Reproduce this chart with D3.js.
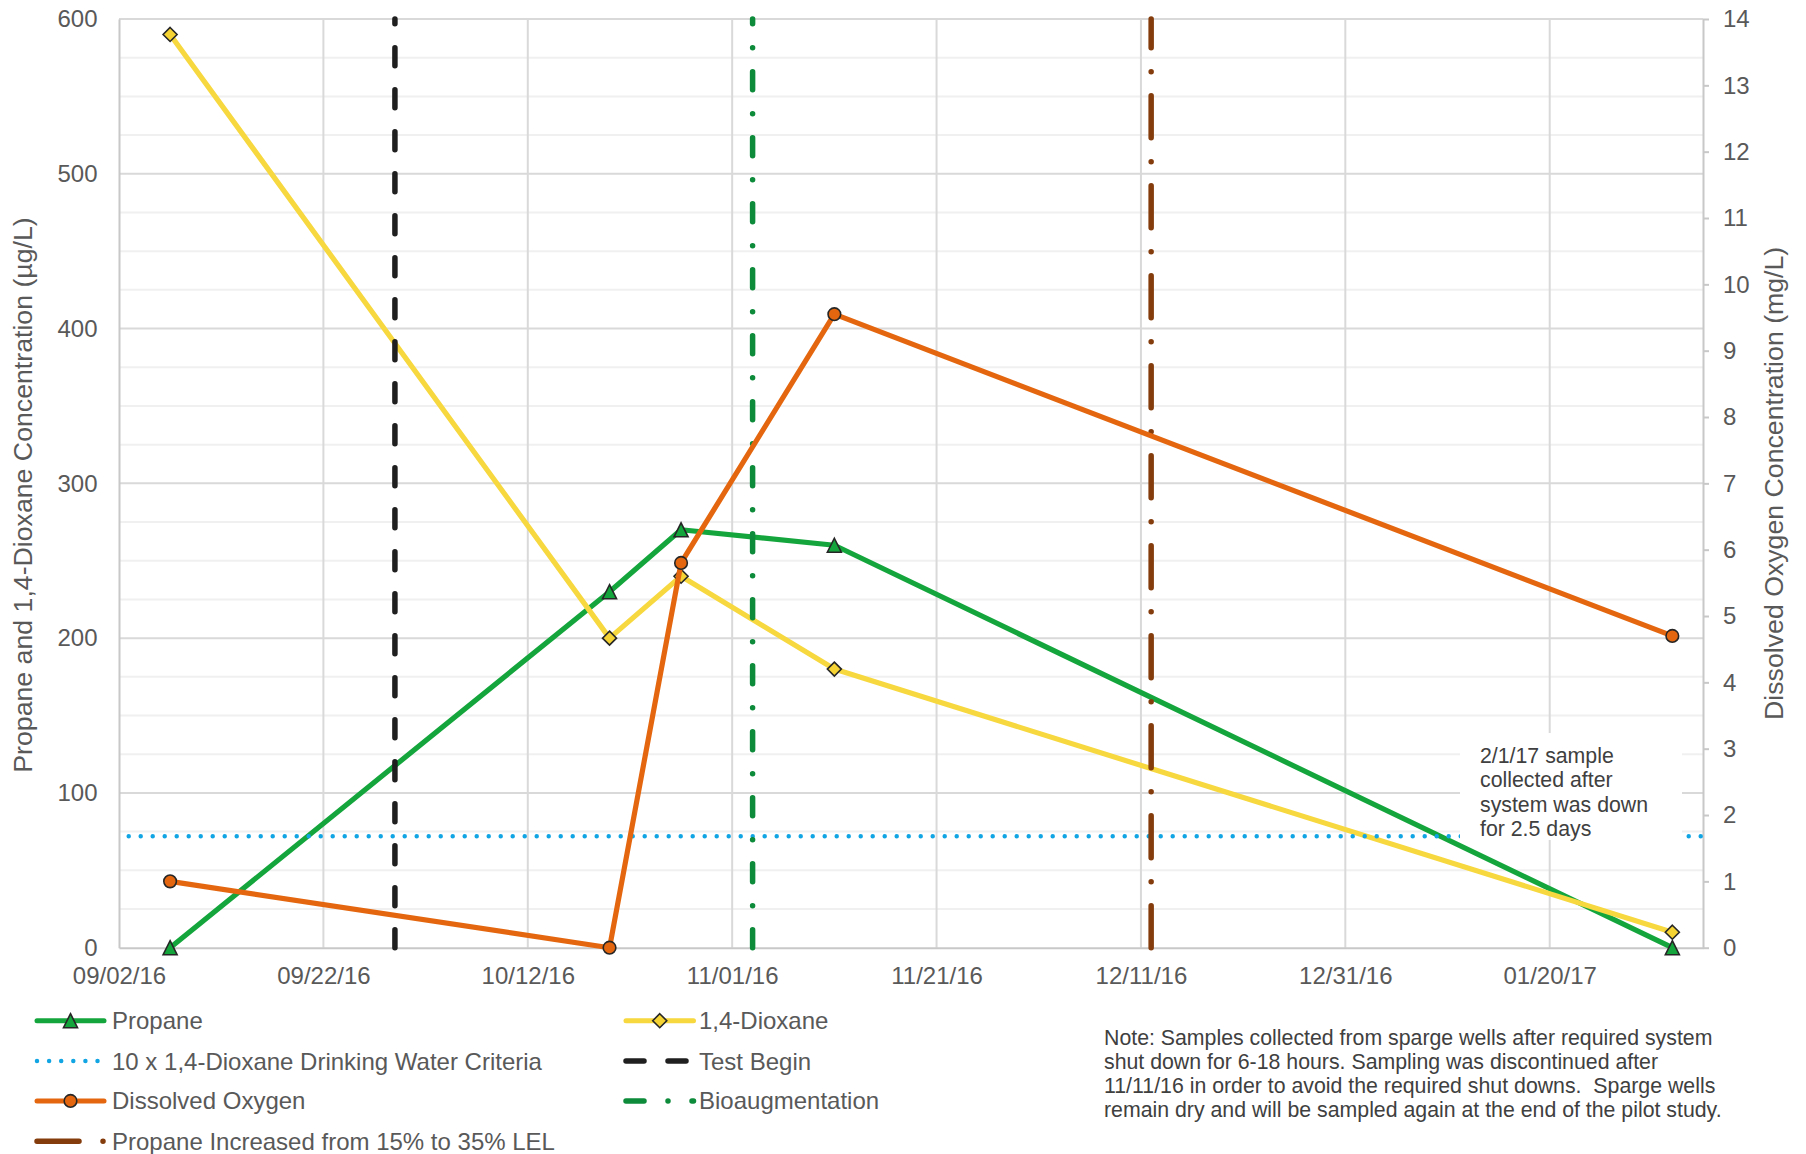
<!DOCTYPE html>
<html><head><meta charset="utf-8">
<script src="https://cdn.jsdelivr.net/npm/d3@7"></script>
<style>
body{margin:0;background:#fff}
text{font-family:"Liberation Sans",Arial,sans-serif;white-space:pre}
</style>
</head><body>
<svg id="chart" width="1806" height="1154"></svg>
<script>
// ---------- data ----------
const sampleDates = ["2016-09-07","2016-10-20","2016-10-27","2016-11-11","2017-02-01"];
const propane = [0, 230, 270, 260, 0];
const dioxane = [590, 200, 240, 180, 10];
const dissolvedOxygen = [1.0, 0, 5.8, 9.55, 4.7];
const criteriaValue = 72;
const eventDates = ["2016-09-29","2016-11-03","2016-12-12"];
const eventNames = ["Test Begin","Bioaugmentation","Propane Increased from 15% to 35% LEL"];
const xDomain = ["2016-09-02","2017-02-04"];
const xTickDates = ["2016-09-02","2016-09-22","2016-10-12","2016-11-01","2016-11-21","2016-12-11","2016-12-31","2017-01-20"];
const leftTicks = [0,100,200,300,400,500,600];
const leftMinorTicks = [25,50,75,125,150,175,225,250,275,325,350,375,425,450,475,525,550,575];
const rightTicks = [0,1,2,3,4,5,6,7,8,9,10,11,12,13,14];
const seriesNames = ["Propane","1,4-Dioxane","10 x 1,4-Dioxane Drinking Water Criteria","Dissolved Oxygen"];
const leftTitle = "Propane and 1,4-Dioxane Concentration (\u00b5g/L)";
const rightTitle = "Dissolved Oxygen Concentration (mg/L)";
const annotationLines = ["2/1/17 sample","collected after","system was down","for 2.5 days"];
const noteLines = [
  "Note: Samples collected from sparge wells after required system",
  "shut down for 6-18 hours. Sampling was discontinued after",
  "11/11/16 in order to avoid the required shut downs.  Sparge wells",
  "remain dry and will be sampled again at the end of the pilot study."
];

// ---------- setup ----------
const parse = d3.utcParse("%Y-%m-%d");
const svg = d3.select("#chart");
const L = 119, R = 1703, T = 19, B = 947.7;
const x = d3.scaleUtc().domain(xDomain.map(parse)).range([L, R]);
const yL = d3.scaleLinear().domain([0, 600]).range([B, T]);
const yR = d3.scaleLinear().domain([0, 14]).range([B, T]);
const FONT = '"Liberation Sans", Arial, sans-serif';
const TXT = "#595959";

const C = {
  propane: "#14a63d", propaneFill: "#14a63d",
  dioxane: "#f7d83f", dioxaneFill: "#f5d332",
  oxygen: "#e4670f",
  criteria: "#12a5e4",
  events: ["#1f1f1f", "#0d8a3a", "#843c0c"],
  marker: "#262626"
};
const eventDash = ["18,24", "18,24,0,24", "42,24,0,24"];

// ---------- grid ----------
const grid = svg.append("g");
grid.selectAll("line.minor").data(leftMinorTicks).join("line")
  .attr("x1", L).attr("x2", R).attr("y1", d => yL(d)).attr("y2", d => yL(d))
  .attr("stroke", "#f0f0f0").attr("stroke-width", 2);
grid.selectAll("line.major").data(leftTicks.slice(1)).join("line")
  .attr("x1", L).attr("x2", R).attr("y1", d => yL(d)).attr("y2", d => yL(d))
  .attr("stroke", "#d9d9d9").attr("stroke-width", 2);
grid.selectAll("line.vert").data(xTickDates.slice(1)).join("line")
  .attr("x1", d => x(parse(d))).attr("x2", d => x(parse(d))).attr("y1", T).attr("y2", B)
  .attr("stroke", "#d9d9d9").attr("stroke-width", 2);

// ---------- axes ----------
function styleAxis(g) {
  g.attr("font-family", FONT).attr("font-size", 24);
  g.selectAll("text").attr("fill", TXT);
  g.select(".domain").attr("stroke", "#c8c8c8").attr("stroke-width", 2);
  g.selectAll(".tick line").attr("stroke", "#c8c8c8").attr("stroke-width", 2);
}
svg.append("g").attr("transform", `translate(${L},0)`)
  .call(d3.axisLeft(yL).tickValues(leftTicks).tickSize(0).tickSizeOuter(0).tickPadding(21.5))
  .call(styleAxis);
svg.append("g").attr("transform", `translate(${R},0)`)
  .call(d3.axisRight(yR).tickValues(rightTicks).tickSize(6).tickSizeOuter(0).tickPadding(14))
  .call(styleAxis);
svg.append("g").attr("transform", `translate(0,${B})`)
  .call(d3.axisBottom(x).tickValues(xTickDates.map(parse)).tickFormat(d3.utcFormat("%m/%d/%y"))
    .tickSize(0).tickSizeOuter(0).tickPadding(19))
  .call(styleAxis);

// axis titles
svg.append("text").attr("transform", `translate(32,495) rotate(-90)`)
  .attr("text-anchor", "middle").attr("font-size", 26.7).attr("fill", TXT).text(leftTitle);
svg.append("text").attr("transform", `translate(1783,${(T + B) / 2}) rotate(-90)`)
  .attr("text-anchor", "middle").attr("font-size", 26.7).attr("fill", TXT).text(rightTitle);

// ---------- marker shapes ----------
const triPath = "M0,-7L7,7L-7,7Z";
const diaPath = "M0,-7L7,0L0,7L-7,0Z";

const sx = (d, i) => x(parse(sampleDates[i]));
const lineL = d3.line().x(sx).y(d => yL(d));
const lineR = d3.line().x(sx).y(d => yR(d));

const plot = svg.append("g");
// Propane
plot.append("path").datum(propane).attr("d", lineL).attr("fill", "none")
  .attr("stroke", C.propane).attr("stroke-width", 5.2).attr("stroke-linejoin", "round");
plot.selectAll("path.tri").data(propane).join("path")
  .attr("transform", (d, i) => `translate(${sx(d, i)},${yL(d)})`).attr("d", triPath)
  .attr("fill", C.propaneFill).attr("stroke", C.marker).attr("stroke-width", 1.6);
// 1,4-Dioxane
plot.append("path").datum(dioxane).attr("d", lineL).attr("fill", "none")
  .attr("stroke", C.dioxane).attr("stroke-width", 5.2).attr("stroke-linejoin", "round");
plot.selectAll("path.dia").data(dioxane).join("path")
  .attr("transform", (d, i) => `translate(${sx(d, i)},${yL(d)})`).attr("d", diaPath)
  .attr("fill", C.dioxaneFill).attr("stroke", C.marker).attr("stroke-width", 1.6);

// criteria dotted line
plot.append("line").attr("x1", L).attr("x2", R)
  .attr("y1", yL(criteriaValue)).attr("y2", yL(criteriaValue))
  .attr("stroke", C.criteria).attr("stroke-width", 4.5).attr("stroke-linecap", "round")
  .attr("stroke-dasharray", "0,12").attr("stroke-dashoffset", 2.3);

// annotation box covers dotted line & grid
const ann = svg.append("g");
ann.append("rect").attr("x", 1460).attr("y", 733).attr("width", 222).attr("height", 107).attr("fill", "#fff");
ann.selectAll("text").data(annotationLines).join("text")
  .attr("x", 1480).attr("y", (d, i) => 763 + i * 24.4)
  .attr("font-size", 21.3).attr("fill", "#404040").text(d => d);

// event lines
const ev = svg.append("g");
ev.selectAll("line").data(eventDates).join("line")
  .attr("x1", d => x(parse(d))).attr("x2", d => x(parse(d)))
  .attr("y1", B).attr("y2", T)
  .attr("stroke", (d, i) => C.events[i]).attr("stroke-width", 5.5)
  .attr("stroke-linecap", "round").attr("stroke-dasharray", (d, i) => eventDash[i]);

// Dissolved oxygen (secondary axis, on top)
const dog = svg.append("g");
dog.append("path").datum(dissolvedOxygen).attr("d", lineR).attr("fill", "none")
  .attr("stroke", C.oxygen).attr("stroke-width", 5.2).attr("stroke-linejoin", "round");
dog.selectAll("circle").data(dissolvedOxygen).join("circle")
  .attr("cx", sx).attr("cy", d => yR(d)).attr("r", 6.3)
  .attr("fill", C.oxygen).attr("stroke", C.marker).attr("stroke-width", 1.6);

// ---------- legend ----------
const rowsY = [1020.7, 1061, 1100.9, 1141.3];
const legendItems = [
  {name: seriesNames[0], col: 0, row: 0, color: C.propane, w: 5, marker: "tri", fill: C.propaneFill},
  {name: seriesNames[1], col: 1, row: 0, color: C.dioxane, w: 5, marker: "dia", fill: C.dioxaneFill},
  {name: seriesNames[2], col: 0, row: 1, color: C.criteria, w: 4.5, dash: "0,12.1"},
  {name: eventNames[0], col: 1, row: 1, color: C.events[0], w: 5.5, dash: eventDash[0]},
  {name: seriesNames[3], col: 0, row: 2, color: C.oxygen, w: 5, marker: "circ", fill: C.oxygen},
  {name: eventNames[1], col: 1, row: 2, color: C.events[1], w: 5.5, dash: eventDash[1]},
  {name: eventNames[2], col: 0, row: 3, color: C.events[2], w: 5.5, dash: eventDash[2]}
];
const colX = [{x1: 37, x2: 104, tx: 112}, {x1: 626, x2: 693.5, tx: 699}];
const lg = svg.append("g");
legendItems.forEach(it => {
  const c = colX[it.col], y = rowsY[it.row];
  const g = lg.append("g");
  g.append("line").attr("x1", c.x1).attr("x2", c.x2).attr("y1", y).attr("y2", y)
    .attr("stroke", it.color).attr("stroke-width", it.w).attr("stroke-linecap", "round")
    .attr("stroke-dasharray", it.dash || null);
  const mx = (c.x1 + c.x2) / 2;
  if (it.marker === "tri") g.append("path").attr("d", triPath).attr("transform", `translate(${mx},${y})`)
    .attr("fill", it.fill).attr("stroke", C.marker).attr("stroke-width", 1.6);
  if (it.marker === "dia") g.append("path").attr("d", diaPath).attr("transform", `translate(${mx},${y})`)
    .attr("fill", it.fill).attr("stroke", C.marker).attr("stroke-width", 1.6);
  if (it.marker === "circ") g.append("circle").attr("cx", mx).attr("cy", y).attr("r", 6.3)
    .attr("fill", it.fill).attr("stroke", C.marker).attr("stroke-width", 1.6);
  g.append("text").attr("x", c.tx).attr("y", y + 8.5).attr("font-size", 24).attr("fill", TXT).text(it.name);
});

// ---------- note ----------
svg.append("g").selectAll("text").data(noteLines).join("text")
  .attr("x", 1104).attr("y", (d, i) => 1044.5 + i * 24.2)
  .attr("font-size", 21.3).attr("fill", "#404040").text(d => d);
</script>
</body></html>
